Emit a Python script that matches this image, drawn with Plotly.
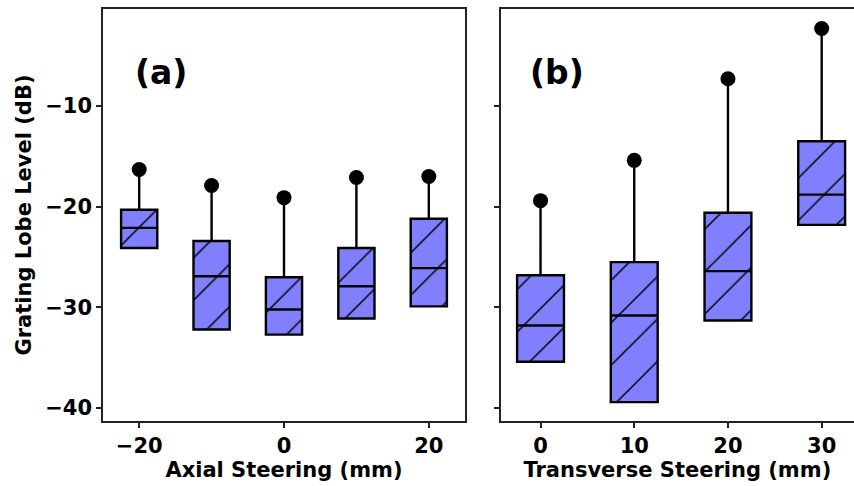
import plotly.graph_objects as go
from plotly.subplots import make_subplots

# ---- data ----
axial_pos = [-20, -10, 0, 10, 20]
axial_q1 = [-24.1, -32.2, -32.7, -31.1, -29.9]
axial_med = [-22.1, -26.9, -30.2, -27.9, -26.1]
axial_q3 = [-20.3, -23.4, -27.0, -24.1, -21.2]
axial_max = [-16.3, -17.9, -19.1, -17.1, -17.0]

trans_pos = [0, 10, 20, 30]
trans_q1 = [-35.4, -39.4, -31.3, -21.8]
trans_med = [-31.8, -30.8, -26.4, -18.8]
trans_q3 = [-26.8, -25.5, -20.6, -13.5]
trans_max = [-19.4, -15.4, -7.3, -2.3]

y_ticks = [-10, -20, -30, -40]
y_labels = ["\u221210", "\u221220", "\u221230", "\u221240"]
axial_ticks = [-20, 0, 20]
axial_labels = ["\u221220", "0", "20"]
trans_ticks = [0, 10, 20, 30]

FILL = "#8080FF"
FONT = "DejaVu Sans"
BOX_W = 5

fig = make_subplots(rows=1, cols=2, shared_yaxes=False)


def add_panel(pos, q1, med, q3, mx, col):
    heights = [b - a for a, b in zip(q1, q3)]
    fig.add_trace(go.Bar(
        x=pos, y=heights, base=q1, width=BOX_W,
        marker=dict(color=FILL, line=dict(color="black", width=0),
                    pattern=dict(shape="/", size=30, solidity=0.05,
                                 fgcolor="black", bgcolor=FILL, fillmode="replace")),
        showlegend=False, hoverinfo="skip"), row=1, col=col)
    fig.add_trace(go.Box(
        x=pos, q1=q1, median=med, q3=q3, lowerfence=q1, upperfence=mx,
        width=BOX_W, whiskerwidth=0, boxpoints=False,
        fillcolor="rgba(0,0,0,0)", line=dict(color="black", width=2.4),
        showlegend=False, hoverinfo="skip"), row=1, col=col)
    fig.add_trace(go.Scatter(
        x=pos, y=mx, mode="markers",
        marker=dict(color="black", size=15),
        showlegend=False, hoverinfo="skip"), row=1, col=col)


add_panel(axial_pos, axial_q1, axial_med, axial_q3, axial_max, 1)
add_panel(trans_pos, trans_q1, trans_med, trans_q3, trans_max, 2)

boldfont = dict(family=FONT, size=21, color="black", weight="bold")
axis_common = dict(showline=True, linecolor="#222", linewidth=1.5, ticks="outside",
                   ticklen=5, tickwidth=1.5, tickcolor="#222", showgrid=False,
                   zeroline=False, tickfont=boldfont, automargin=False)

y_range = [-41.28, -0.37]

fig.update_layout(
    width=854, height=486,
    margin=dict(l=0, r=0, t=0, b=0, autoexpand=False),
    plot_bgcolor="white", paper_bgcolor="white",
    font=dict(family=FONT, color="black"),
    barmode="overlay",
    xaxis=dict(domain=[0.1206, 0.5445], range=[-25, 25], tickvals=axial_ticks,
               ticktext=axial_labels, mirror=True,
               title=dict(text="Axial Steering (mm)", font=boldfont, standoff=2),
               **axis_common),
    yaxis=dict(domain=[0.1337, 0.9815], range=y_range, tickvals=y_ticks,
               ticktext=y_labels, mirror=True,
               title=dict(text="Grating Lobe Level (dB)", font=boldfont, standoff=8),
               **axis_common),
    xaxis2=dict(domain=[0.5863, 1.0], range=[-4.25, 33.45], tickvals=trans_ticks,
                mirror=True,
                title=dict(text="Transverse Steering (mm)", font=boldfont, standoff=2),
                **axis_common),
    yaxis2=dict(domain=[0.1337, 0.9815], range=y_range, tickvals=y_ticks,
                showticklabels=False, mirror=False, anchor="x2",
                **axis_common),
)

fig.add_annotation(text="(a)", xref="x domain", yref="y domain", x=0.16, y=0.845,
                   showarrow=False, font=dict(family=FONT, size=33, color="black", weight="bold"),
                   xanchor="center", yanchor="middle")
fig.add_annotation(text="(b)", xref="x2 domain", yref="y2 domain", x=0.159, y=0.845,
                   showarrow=False, font=dict(family=FONT, size=33, color="black", weight="bold"),
                   xanchor="center", yanchor="middle")

fig.write_html("out.html", config={"displayModeBar": False},
               post_script="document.body.style.margin='0';document.body.style.overflow='hidden';")
